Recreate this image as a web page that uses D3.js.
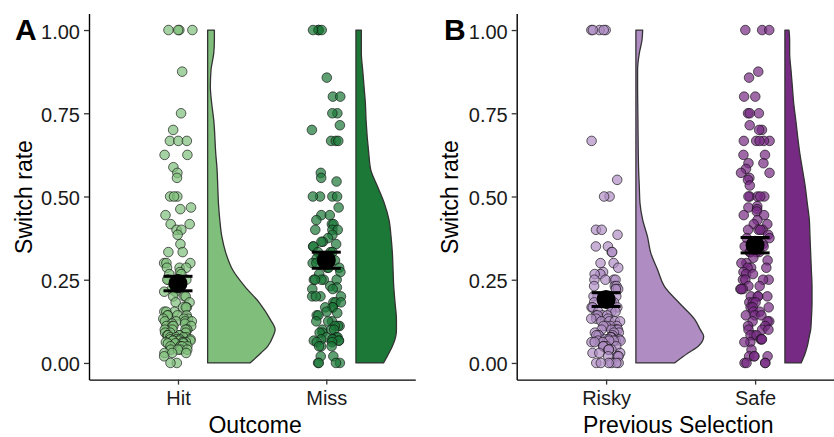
<!DOCTYPE html>
<html>
<head>
<meta charset="utf-8">
<script src="https://cdn.jsdelivr.net/npm/d3@7"></script>
<style>
  body { margin: 0; background: #fff; }
  svg { display: block; }
</style>
</head>
<body>
<svg id="chart" width="834" height="437"></svg>
<script>
// ---- data ----
const outcomeCategories = ["Hit", "Miss"];
const selectionCategories = ["Risky", "Safe"];
const yTicks = [0, 0.25, 0.5, 0.75, 1];

// per-participant switch rates
const hitRates = [
  1, 1, 1, 1, 0.875, 0.75, 0.7, 0.667, 0.667, 0.667, 0.625, 0.625, 0.588, 0.571, 0.556,
  0.5, 0.5, 0.5, 0.467, 0.462, 0.444, 0.417, 0.417, 0.4, 0.4, 0.385, 0.357, 0.333, 0.333,
  0.3, 0.3, 0.3, 0.286, 0.286, 0.286, 0.273, 0.267, 0.267, 0.25, 0.25, 0.25, 0.222, 0.222, 0.214, 0.214,
  0.2, 0.2, 0.2, 0.182, 0.182, 0.167, 0.167, 0.167, 0.154, 0.154, 0.154, 0.143, 0.143, 0.143, 0.143,
  0.133, 0.133, 0.133, 0.125, 0.125, 0.125, 0.125, 0.118, 0.118, 0.111, 0.111, 0.111, 0.111,
  0.1, 0.1, 0.1, 0.1, 0.1, 0.091, 0.091, 0.091, 0.083, 0.083, 0.083, 0.083, 0.077, 0.077, 0.077, 0.077,
  0.071, 0.071, 0.071, 0.071, 0.067, 0.067, 0.067, 0.067, 0.0625, 0.0625, 0.0625, 0.0625,
  0.059, 0.059, 0.059, 0.05, 0.05, 0.05, 0.05, 0.05, 0.04, 0.04, 0.04, 0.04, 0.03, 0.03, 0.03, 0.02, 0, 0
];
const missRates = [
  1, 1, 1, 1, 0.857, 0.8, 0.8, 0.75, 0.75, 0.714, 0.7, 0.667, 0.667, 0.667,
  0.571, 0.556, 0.545, 0.5, 0.5, 0.5, 0.5, 0.467, 0.444, 0.444, 0.429, 0.417, 0.417,
  0.4, 0.4, 0.4, 0.385, 0.375, 0.364, 0.364, 0.357, 0.35, 0.35, 0.333, 0.333, 0.333,
  0.32, 0.316, 0.313, 0.308, 0.3, 0.3,
  0.286, 0.286, 0.286, 0.273, 0.267, 0.25, 0.25, 0.25, 0.25, 0.25, 0.231, 0.227, 0.222, 0.222,
  0.2, 0.2, 0.2, 0.2, 0.182, 0.182, 0.182, 0.167, 0.167, 0.167, 0.154, 0.15, 0.143, 0.143,
  0.125, 0.125, 0.125, 0.111, 0.111, 0.111, 0.1, 0.1, 0.1, 0.091, 0.091, 0.077, 0.077, 0.077,
  0.071, 0.071, 0.071, 0.067, 0.067, 0.067, 0.0625, 0.0625, 0.05, 0.05, 0.05, 0.02, 0.02, 0, 0, 0, 0
];
const riskyRates = [
  1, 1, 1, 1, 1, 0.667, 0.55, 0.5, 0.5, 0.4, 0.4, 0.385, 0.35, 0.35, 0.333, 0.333, 0.3, 0.3, 0.286,
  0.273, 0.267, 0.267, 0.25, 0.25, 0.25, 0.25, 0.231, 0.231, 0.231, 0.222, 0.222, 0.222,
  0.2, 0.2, 0.2, 0.2, 0.182, 0.182, 0.182, 0.167, 0.167, 0.167, 0.167, 0.154, 0.154, 0.154,
  0.143, 0.143, 0.143, 0.143, 0.133, 0.133, 0.133, 0.125, 0.125, 0.125, 0.125,
  0.111, 0.111, 0.111, 0.111, 0.1, 0.1, 0.1, 0.1, 0.1, 0.091, 0.091, 0.091,
  0.083, 0.083, 0.083, 0.083, 0.077, 0.077, 0.077, 0.077, 0.071, 0.071, 0.071,
  0.067, 0.067, 0.067, 0.067, 0.067, 0.0625, 0.0625, 0.0625, 0.05, 0.05, 0.05, 0.05, 0.05,
  0.04, 0.04, 0.04, 0.04, 0.03, 0.03, 0.03, 0.02, 0.02, 0.02, 0.02, 0, 0, 0, 0, 0, 0
];
const safeRates = [
  1, 1, 1, 0.875, 0.857, 0.8, 0.8, 0.75, 0.75, 0.75, 0.714, 0.7, 0.7, 0.667, 0.667, 0.667, 0.667, 0.667,
  0.625, 0.625, 0.6, 0.6, 0.583, 0.571, 0.571, 0.556, 0.55, 0.533, 0.5, 0.5, 0.5, 0.5, 0.5,
  0.471, 0.467, 0.462, 0.455, 0.444, 0.444, 0.429, 0.417, 0.417, 0.4, 0.4, 0.4, 0.4,
  0.385, 0.375, 0.375, 0.357, 0.35, 0.35, 0.333, 0.333, 0.333, 0.333, 0.316, 0.308, 0.3, 0.3,
  0.286, 0.286, 0.286, 0.273, 0.267, 0.267, 0.25, 0.25, 0.25, 0.25, 0.231, 0.231,
  0.222, 0.222, 0.222, 0.2, 0.2, 0.2, 0.2, 0.182, 0.182, 0.182, 0.167, 0.167, 0.167,
  0.154, 0.154, 0.143, 0.143, 0.143, 0.125, 0.125, 0.125, 0.111, 0.111, 0.1, 0.1, 0.1,
  0.083, 0.083, 0.083, 0.071, 0.071, 0.071, 0.0625, 0.0625, 0.04, 0.02, 0.02, 0.02, 0.02, 0, 0, 0, 0
];

// half-violin density profiles (relative density at each switch-rate level)
const densityLevels = [0, 0.03, 0.05, 0.08, 0.1, 0.13, 0.18, 0.23, 0.28, 0.33, 0.38, 0.43,
                       0.48, 0.53, 0.58, 0.63, 0.73, 0.78, 0.83, 0.88, 0.93, 0.97, 1];
const hitDensity   = [0.63, 0.79, 0.89, 0.97, 1.00, 0.93, 0.77, 0.55, 0.37, 0.27, 0.21, 0.18,
                      0.16, 0.15, 0.14, 0.12, 0.09, 0.06, 0.04, 0.05, 0.09, 0.10, 0.10];
const missDensity  = [0.41, 0.49, 0.54, 0.59, 0.60, 0.60, 0.58, 0.56, 0.55, 0.54, 0.52, 0.49,
                      0.42, 0.32, 0.22, 0.19, 0.15, 0.14, 0.12, 0.10, 0.08, 0.08, 0.08];
const riskyDensity = [0.57, 0.77, 0.92, 1.00, 0.95, 0.87, 0.64, 0.42, 0.32, 0.22, 0.17, 0.10,
                      0.06, 0.05, 0.04, 0.035, 0.03, 0.027, 0.025, 0.025, 0.05, 0.09, 0.10];
const safeDensity  = [0.24, 0.30, 0.33, 0.36, 0.38, 0.39, 0.40, 0.40, 0.39, 0.38, 0.37, 0.36,
                      0.33, 0.30, 0.26, 0.22, 0.16, 0.13, 0.11, 0.09, 0.07, 0.07, 0.06];

const groupColors = { Hit: "#7fbf7b", Miss: "#1b7837", Risky: "#af8dc3", Safe: "#762a83" };

// ---- layout ----
const svg = d3.select("#chart");
svg.append("rect").attr("width", 834).attr("height", 437).attr("fill", "#fff");

const FONT = "'Liberation Sans', Arial, Helvetica, sans-serif";
const y = d3.scaleLinear().domain([-0.05, 1.05]).range([379.6, 13.4]);

const panels = [
  {
    letter: "A", letterX: 15, title: "Outcome", axisX: 89, unit: 148.3, yTitleX: 31.5,
    categories: outcomeCategories,
    rates: { Hit: hitRates, Miss: missRates },
    density: { Hit: hitDensity, Miss: missDensity },
    seed: 0.27
  },
  {
    letter: "B", letterX: 444, title: "Previous Selection", axisX: 516.7, unit: 149, yTitleX: 458,
    categories: selectionCategories,
    rates: { Risky: riskyRates, Safe: safeRates },
    density: { Risky: riskyDensity, Safe: safeDensity },
    seed: 0.61
  }
];

panels.forEach(p => {
  const g = svg.append("g");
  const x = d3.scalePoint()
    .domain(p.categories)
    .range([p.axisX, p.axisX + 2.2 * p.unit])
    .padding(0.6);
  const step = x.step();
  const widthScale = d3.scaleLinear().domain([0, 1]).range([0, 0.455 * step]);
  const nudge = 0.2 * step;

  // half violins
  p.categories.forEach(cat => {
    const profile = densityLevels.map((lv, i) => ({ level: lv, dens: p.density[cat][i] }));
    const area = d3.area()
      .y(d => y(d.level))
      .x0(x(cat) + nudge)
      .x1(d => x(cat) + nudge + widthScale(d.dens))
      .curve(d3.curveMonotoneY);
    g.append("path")
      .datum(profile)
      .attr("d", area)
      .attr("fill", groupColors[cat])
      .attr("stroke", "#333")
      .attr("stroke-width", 1.3)
      .attr("stroke-linejoin", "round");
  });

  // jittered participant points
  p.categories.forEach((cat, ci) => {
    const jitter = d3.randomUniform.source(d3.randomLcg(p.seed + ci * 0.13))(-0.1, 0.1);
    const pts = p.rates[cat].map(v => ({ v, dx: jitter() }));
    g.append("g").selectAll("circle")
      .data(pts)
      .join("circle")
      .attr("cx", d => x(cat) + d.dx * step)
      .attr("cy", d => y(d.v))
      .attr("r", 4.8)
      .attr("fill", groupColors[cat])
      .attr("fill-opacity", 0.7)
      .attr("stroke", "#111")
      .attr("stroke-opacity", 0.65)
      .attr("stroke-width", 1);
  });

  // mean ± standard error
  p.categories.forEach(cat => {
    const vals = p.rates[cat];
    const m = d3.mean(vals);
    const se = d3.deviation(vals) / Math.sqrt(vals.length);
    const cx = x(cat);
    const eg = g.append("g").attr("stroke", "#000").attr("stroke-width", 3);
    eg.append("line").attr("x1", cx).attr("x2", cx).attr("y1", y(m - se)).attr("y2", y(m + se));
    [m - se, m + se].forEach(v => {
      eg.append("line").attr("x1", cx - 14.5).attr("x2", cx + 14.5).attr("y1", y(v)).attr("y2", y(v));
    });
    g.append("circle").attr("cx", cx).attr("cy", y(m)).attr("r", 9.5).attr("fill", "#000");
  });

  // axes
  const yAxis = d3.axisLeft(y)
    .tickValues(yTicks)
    .tickFormat(d3.format(".2f"))
    .tickSize(5).tickSizeOuter(0).tickPadding(4);
  const ya = g.append("g").attr("transform", `translate(${p.axisX},0)`).call(yAxis);
  ya.selectAll("text").attr("font-size", 20).attr("font-family", FONT).attr("fill", "#1a1a1a").attr("dy", "0.4em");

  const xAxis = d3.axisBottom(x).tickSize(5).tickSizeOuter(0).tickPadding(6);
  const xa = g.append("g").attr("transform", `translate(0,${y.range()[0]})`).call(xAxis);
  xa.selectAll("text").attr("font-size", 20).attr("font-family", FONT).attr("fill", "#1a1a1a");

  [ya, xa].forEach(a => {
    a.select(".domain").attr("stroke", "#000").attr("stroke-width", 1.4);
    a.selectAll(".tick line").attr("stroke", "#333").attr("stroke-width", 1.3);
  });

  // titles
  g.append("text")
    .attr("transform", `translate(${p.yTitleX},197) rotate(-90)`)
    .attr("text-anchor", "middle")
    .attr("font-family", FONT).attr("font-size", 23).attr("fill", "#000")
    .text("Switch rate");
  g.append("text")
    .attr("x", (x.range()[0] + Math.min(x.range()[1], 834)) / 2 + 3)
    .attr("y", 433)
    .attr("text-anchor", "middle")
    .attr("font-family", FONT).attr("font-size", 23).attr("fill", "#000")
    .text(p.title);
  g.append("text")
    .attr("x", p.letterX).attr("y", 40)
    .attr("font-family", FONT).attr("font-size", 30).attr("font-weight", "bold").attr("fill", "#000")
    .text(p.letter);
});
</script>
</body>
</html>
